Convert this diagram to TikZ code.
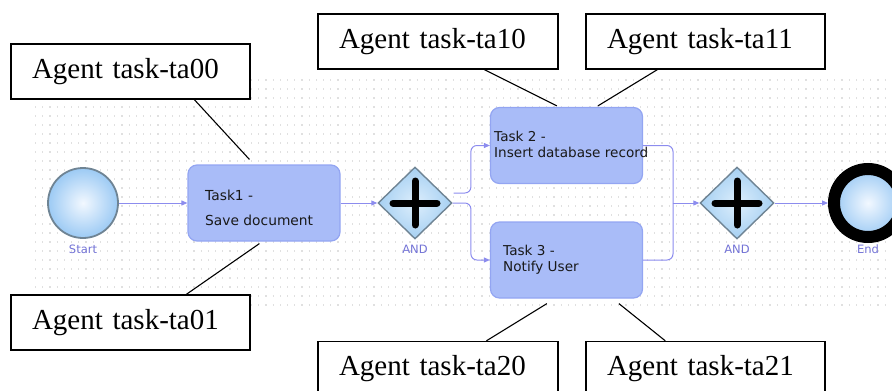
\documentclass[tikz,border=0pt]{standalone}
\usepackage{fontspec}
\setmainfont{Liberation Serif}
\newfontfamily\bpmnfont{DejaVu Sans}
\usetikzlibrary{shapes.geometric,arrows.meta,calc}
\definecolor{taskfill}{HTML}{A9BCF8}
\definecolor{taskdraw}{HTML}{93A5F2}
\definecolor{flow}{HTML}{8C8CEE}
\definecolor{lbl}{HTML}{7373D6}
\definecolor{evdraw}{HTML}{6F8494}
\definecolor{evin}{HTML}{F2F8FF}
\definecolor{evout}{HTML}{9CCAF4}
\definecolor{gwin}{HTML}{DDEEFC}
\definecolor{gwout}{HTML}{A6D0F2}
\definecolor{griddot}{HTML}{E0E0E0}
\begin{document}
\begin{tikzpicture}[x=1pt,y=-1pt,
  agent/.style={draw=black, line width=1.3pt, fill=white, text width=197pt, inner xsep=21pt, inner ysep=0pt, minimum height=55pt, align=left, font=\fontsize{29}{30}\selectfont},
  task/.style={draw=taskdraw, line width=1.2pt, fill=taskfill, rounded corners=9pt, minimum width=152pt, minimum height=76pt, inner sep=0pt},
  ttext/.style={anchor=west, align=left, inner sep=0pt, text=black!90},
  lab/.style={font=\bpmnfont\fontsize{11.5}{13}\selectfont, text=lbl, inner sep=0pt},
  flowline/.style={draw=flow, line width=1pt, -{Triangle[length=6pt,width=5pt]}, rounded corners=6pt},
  flowseg/.style={draw=flow, line width=1pt, rounded corners=6pt},
  leader/.style={draw=black, line width=1.1pt},
  gate/.style={diamond, draw=evdraw, line width=1.4pt, inner color=gwin, outer color=gwout, minimum width=74pt, minimum height=72pt, inner sep=0pt},
  plussign/.style={draw=black, line width=7pt, line cap=round},
]
\useasboundingbox (0,0) rectangle (892,391);
% dotted background
\foreach \yy in {80,89,...,305}{
  \draw[griddot, line width=1.2pt, dash pattern=on 1.2pt off 6pt] (35,\yy) -- (892,\yy);
}
% events and gateways
\node[circle, draw=evdraw, line width=1.8pt, inner color=evin, outer color=evout, minimum size=70pt, inner sep=0pt] (start) at (83,203) {};
\node[lab] (startl) at (83,249) {Start};
\node[gate] (g1) at (415,203) {};
\node[lab] (g1l) at (415,249) {AND};
\node[gate] (g2) at (737,203) {};
\node[lab] (g2l) at (737,249) {AND};
\node[circle, draw=black, line width=12pt, inner color=evin, outer color=evout, minimum size=68pt, inner sep=0pt] (end) at (868,203) {};
\node[lab] (endl) at (868,249) {End};
\foreach \g in {g1,g2}{
  \draw[plussign] ($(\g.center)+(-22,0)$) -- ($(\g.center)+(22,0)$);
  \draw[plussign] ($(\g.center)+(0,-22)$) -- ($(\g.center)+(0,22)$);
}
% tasks
\node[task] (t1) at (264,203) {};
\node[task] (t2) at (566.5,145.5) {};
\node[task] (t3) at (566.5,260) {};
\node[ttext, font=\bpmnfont\fontsize{13.8}{25}\selectfont] (t1txt) at (205,207.5) {Task1 -\\Save document};
\node[ttext, font=\bpmnfont\fontsize{13.6}{15.5}\selectfont] (t2txt) at (494,144.5) {Task 2 -\\Insert database record};
\node[ttext, font=\bpmnfont\fontsize{13.6}{15.5}\selectfont] (t3txt) at (503,259.5) {Task 3 -\\Notify User};
% flows
\draw[flowline] (start) -- (t1);
\draw[flowline] (t1) -- (g1);
\draw[flowline] ($(g1.east)+(1,-10)$) -| ($(t2.west)+(-19,0)$) -- (t2.west);
\draw[flowline] (g1.east) -| ($(t3.west)+(-19,0)$) -- (t3.west);
\coordinate (join) at (673,203);
\draw[flowseg] (t2.east) -| (join);
\draw[flowseg] (t3.east) -| (join);
\draw[flowline] (join) -- (g2.west);
\draw[flowline] (g2.east) -- (end.west);
% agent boxes
\node[agent] (ta00) at (130.5,71.5) {Agent task-ta00};
\node[agent] (ta01) at (130.5,322.5) {Agent task-ta01};
\node[agent, text width=198pt] (ta10) at (438,41.5) {Agent task-ta10};
\node[agent] (ta11) at (705.5,41.5) {Agent task-ta11};
\node[agent, text width=198pt] (ta20) at (438,369) {Agent task-ta20};
\node[agent] (ta21) at (705.5,369) {Agent task-ta21};
% leaders
\draw[leader] ($(ta00.south west)+(184,0)$) -- ($(t1.north west)+(62,-5)$);
\draw[leader] ($(ta01.north west)+(176,0)$) -- ($(t1.south west)+(72,2)$);
\draw[leader] ($(ta10.south west)+(167,0)$) -- ($(t2.north west)+(67,-1)$);
\draw[leader] ($(ta11.south west)+(72,0)$) -- ($(t2.north west)+(108,-1)$);
\draw[leader] ($(ta20.north west)+(169,0)$) -- ($(t3.south west)+(57,5)$);
\draw[leader] ($(ta21.north west)+(80,0)$) -- ($(t3.south west)+(129,5)$);
\end{tikzpicture}
\end{document}
